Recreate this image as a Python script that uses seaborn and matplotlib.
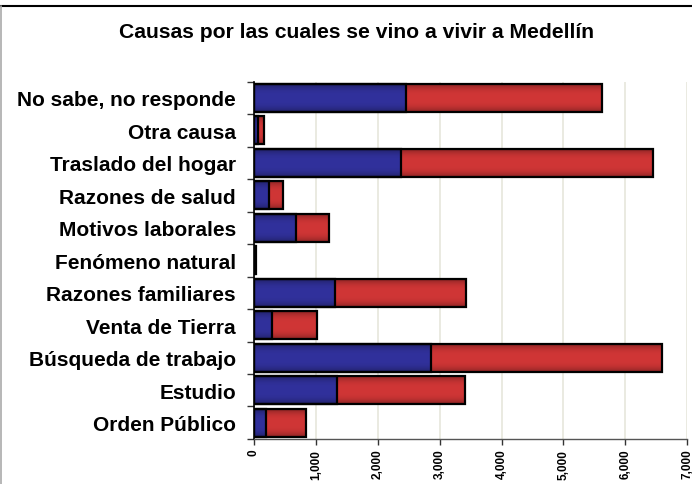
import numpy as np
import pandas as pd
import matplotlib
matplotlib.use("Agg")
import matplotlib.pyplot as plt
import seaborn as sns
from matplotlib.lines import Line2D
from matplotlib.colors import to_rgb
from matplotlib.ticker import FuncFormatter

categories = ["No sabe, no responde", "Otra causa", "Traslado del hogar",
              "Razones de salud", "Motivos laborales", "Fenómeno natural",
              "Razones familiares", "Venta de Tierra", "Búsqueda de trabajo",
              "Estudio", "Orden Público"]
blue_vals = [2450, 65, 2380, 250, 685, 15, 1305, 285, 2860, 1345, 190]
red_vals = [3180, 100, 4060, 225, 530, 10, 2120, 730, 3740, 2065, 645]
x_ticks = [0, 1000, 2000, 3000, 4000, 5000, 6000, 7000]

BLUE = "#31319c"
RED = "#d03636"

sns.set_theme(style="white")
plt.rcParams['font.family'] = ['Liberation Sans', 'DejaVu Sans']
plt.rcParams['text.color'] = 'black'
plt.rcParams['xtick.color'] = 'black'
plt.rcParams['ytick.color'] = 'black'

df = pd.DataFrame({"cat": categories, "blue": blue_vals, "red": red_vals})
df["total"] = df["blue"] + df["red"]

fig = plt.figure(figsize=(6.92, 4.85), dpi=100)
ax = fig.add_axes([0.367, 0.0928, 0.626, 0.737])

sns.barplot(data=df, y="cat", x="total", color=RED, orient="h", width=0.85,
            edgecolor="black", linewidth=1.6, saturation=1, ax=ax)
sns.barplot(data=df, y="cat", x="blue", color=BLUE, orient="h", width=0.85,
            edgecolor="black", linewidth=1.6, saturation=1, ax=ax)

# soft shading towards the top and bottom edge of every bar
profile = np.linspace(-1, 1, 64)
shade = 1.0 - 0.35 * np.abs(profile) ** 3
for p in list(ax.patches):
    w = p.get_width()
    if w <= 0:
        continue
    rgb = np.array(to_rgb(p.get_facecolor()))
    img = (shade[:, None, None] * rgb[None, None, :]).repeat(2, axis=1)
    x0, y0 = p.get_x(), p.get_y()
    im = ax.imshow(img, extent=[x0, x0 + w, y0 + p.get_height(), y0],
                   aspect="auto", interpolation="bilinear", zorder=p.get_zorder())
    im.set_clip_path(p)
    p.set_facecolor("none")
    p.set_zorder(p.get_zorder() + 0.1)

ax.set_xlim(0, 7000)
ax.set_ylim(len(categories) - 0.5, -0.5)
ax.set_xticks(x_ticks)
ax.xaxis.set_major_formatter(FuncFormatter(lambda v, p: f"{int(v):,}" if v else "0"))
ax.grid(axis="x", color="#e6e6dc", linewidth=1.2)
ax.set_axisbelow(True)
ax.set_xlabel("")
ax.set_ylabel("")

for lab in ax.get_xticklabels():
    lab.set_rotation(90)
    lab.set_fontweight("bold")
    lab.set_fontsize(8.5)
ax.tick_params(axis="x", length=4, width=1, color="#333333", direction="out",
               bottom=True, pad=3)
ax.tick_params(axis="y", which="major", length=0, pad=13, labelsize=15)
for lab in ax.get_yticklabels():
    lab.set_fontweight("bold")
ax.set_yticks(np.arange(len(categories) + 1) - 0.5, minor=True)
ax.tick_params(axis="y", which="minor", length=5, width=1, color="#333333",
               direction="out", left=True)

for s in ["top", "right"]:
    ax.spines[s].set_visible(False)
ax.spines["left"].set_color("black")
ax.spines["left"].set_linewidth(1.2)
ax.spines["bottom"].set_color("#555555")
ax.spines["bottom"].set_linewidth(1.0)

fig.text(0.515, 0.933, "Causas por las cuales se vino a vivir a Medellín",
         ha="center", va="center", fontsize=15.2, fontweight="bold")

fig.add_artist(Line2D([0.0, 1.0], [0.985, 0.985], transform=fig.transFigure,
                      color="black", linewidth=1.5))
fig.add_artist(Line2D([0.002, 0.002], [0.0, 0.985], transform=fig.transFigure,
                      color="#aaaaaa", linewidth=1.2))

fig.savefig("out.png", dpi=100)
